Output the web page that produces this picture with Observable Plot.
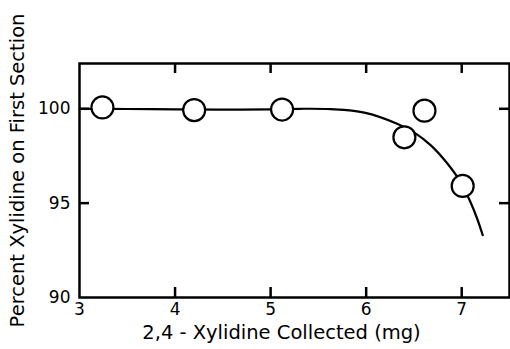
<!DOCTYPE html>
<html><head><meta charset="utf-8">
<script src="https://cdn.jsdelivr.net/npm/d3@7"></script>
<script src="https://cdn.jsdelivr.net/npm/@observablehq/plot@0.6"></script>
<style>body{margin:0;background:#fff;overflow:hidden}</style>
</head><body><div id="chart"></div>
<script>
const collected = [3.24, 4.20, 5.12, 6.40, 6.61, 7.01];
const percent = [100.07, 99.93, 99.96, 98.49, 99.9, 95.91];
const curveX = [3.0, 3.5, 4.0, 4.5, 5.0, 5.3, 5.63, 5.98, 6.33, 6.50, 6.68, 6.85, 6.99, 7.09, 7.16, 7.22];
const curveY = [100.0, 99.99, 99.97, 99.96, 99.97, 100.0, 99.98, 99.8, 99.2, 98.75, 98.05, 97.1, 96.1, 95.07, 94.2, 93.3];
const xTicks = [3, 4, 5, 6, 7];
const yTicks = [90, 95, 100];
const innerXTicks = [4, 5, 6, 7];
const innerYTicks = [95, 100];
const xLabel = "2,4 - Xylidine Collected (mg)";
const yLabel = "Percent Xylidine on First Section";

const points = collected.map((x, i) => ({x, y: percent[i]}));
const curve = curveX.map((x, i) => ({x, y: curveY[i]}));

const W = 510, H = 349, mL = 79, mR = 1, mT = 63, mB = 52;
const innerH = H - mT - mB;
const tl = 10;

const chart = Plot.plot({
  width: W, height: H,
  marginLeft: mL, marginRight: mR, marginTop: mT, marginBottom: mB,
  style: {fontFamily: "DejaVu Sans", fontSize: "17px", color: "#000", background: "#fff"},
  x: {domain: [3, 7.5], ticks: xTicks, tickFormat: d3.format("d"), tickSize: 0, tickPadding: 5, label: null},
  y: {domain: [90, 102.4], ticks: yTicks, tickFormat: d3.format("d"), tickSize: 0, tickPadding: 9, label: null},
  marks: [
    Plot.frame({stroke: "#000", strokeWidth: 2.5}),
    Plot.tickX(innerXTicks, {x: d => d, insetBottom: innerH - tl, strokeWidth: 2.5}),
    Plot.tickX(innerXTicks, {x: d => d, insetTop: innerH - tl, strokeWidth: 2.5}),
    Plot.tickY(innerYTicks, {y: d => d, insetRight: (W - mL - mR) - tl, strokeWidth: 2.5}),
    Plot.tickY(innerYTicks, {y: d => d, insetLeft: (W - mL - mR) - tl, strokeWidth: 2.5}),
    Plot.line(curve, {x: "x", y: "y", curve: "catmull-rom", stroke: "#000", strokeWidth: 2.2}),
    Plot.dot(points, {x: "x", y: "y", r: 11, fill: "#fff", stroke: "#000", strokeWidth: 2.2}),
    Plot.text([xLabel], {text: d => d, frameAnchor: "bottom", textAnchor: "middle", dx: -13, dy: 41, fontSize: 19.5, fill: "#000"}),
    Plot.text([yLabel], {text: d => d, frameAnchor: "left", textAnchor: "middle", rotate: -90, dx: -62, dy: -10, fontSize: 19.5, fill: "#000"})
  ]
});
document.getElementById("chart").appendChild(chart);
</script>
</body></html>
